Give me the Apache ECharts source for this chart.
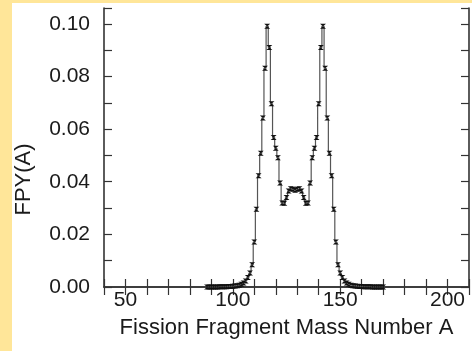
<!DOCTYPE html>
<html>
<head>
<meta charset="utf-8">
<script src="https://cdn.jsdelivr.net/npm/echarts@6/dist/echarts.min.js"></script>
<style>
  html, body { margin: 0; padding: 0; background: #FFE699; }
  #main { position: absolute; left: 12px; top: 3px; width: 460px; height: 348px; background: #fff; }
</style>
</head>
<body>
<div id="main"></div>
<script>
// mass number A
var massNumbers = [
  88, 89, 90, 91, 92, 93, 94, 95, 96, 97, 98, 99,
  100, 101, 102, 103, 104, 105, 106, 107, 108, 109,
  110, 111, 112, 113, 114, 115, 116, 117, 118, 119,
  120, 121, 122, 123, 124, 125, 126, 127, 128, 129,
  130, 131, 132, 133, 134, 135, 136, 137, 138, 139,
  140, 141, 142, 143, 144, 145, 146, 147, 148, 149,
  150, 151, 152, 153, 154, 155, 156, 157, 158, 159,
  160, 161, 162, 163, 164, 165, 166, 167, 168, 169, 170
];
// fission product yield FPY(A)
var fpy = [
  0.00001, 0.00001, 0.00002, 0.00002, 0.00003, 0.00004, 0.00005, 0.00007, 0.00009, 0.00012, 0.00016, 0.00021,
  0.00028, 0.00038, 0.00052, 0.0007, 0.0010, 0.0015, 0.0023, 0.0036, 0.0053, 0.0085,
  0.0171, 0.0295, 0.0423, 0.0508, 0.0642, 0.0831, 0.0991, 0.0910, 0.0696, 0.0568,
  0.0527, 0.0491, 0.0395, 0.0319, 0.0318, 0.0340, 0.0365, 0.0373, 0.0371, 0.0368,
  0.0371, 0.0373, 0.0365, 0.0340, 0.0318, 0.0319, 0.0395, 0.0491, 0.0527, 0.0568,
  0.0696, 0.0910, 0.0991, 0.0831, 0.0642, 0.0508, 0.0423, 0.0295, 0.0171, 0.0085,
  0.0053, 0.0036, 0.0023, 0.0015, 0.0010, 0.0007, 0.00052, 0.00038, 0.00028, 0.00021,
  0.00016, 0.00012, 0.00009, 0.00007, 0.00005, 0.00004, 0.00003, 0.00002, 0.00002, 0.00001, 0.00001
];
var xLabels = [50, 100, 150, 200];
var yLabels = [0, 0.02, 0.04, 0.06, 0.08, 0.10];

var chart = echarts.init(document.getElementById('main'));

var font = '"Liberation Sans", Arial, sans-serif';
var frameColor = '#333';

function xLabel(v) {
  return xLabels.indexOf(v) >= 0 ? String(v) : '';
}
function yLabel(v) {
  for (var i = 0; i < yLabels.length; i++) {
    if (Math.abs(v - yLabels[i]) < 1e-6) return yLabels[i].toFixed(2);
  }
  return '';
}

var points = massNumbers.map(function (a, i) { return [a, fpy[i]]; });

var xBase = {
  type: 'value', min: 40, max: 210, interval: 10,
  axisLine: { show: true, lineStyle: { color: frameColor, width: 1.6 } },
  axisTick: { show: true, inside: true, length: 8, lineStyle: { color: frameColor, width: 1.2 } },
  splitLine: { show: false }
};
var yBase = {
  type: 'value', min: 0, max: 0.106, interval: 0.01,
  axisLine: { show: true, lineStyle: { color: frameColor, width: 1.6 } },
  axisTick: { show: true, inside: true, length: 8, lineStyle: { color: frameColor, width: 1.2 } },
  splitLine: { show: false }
};

var option = {
  animation: false,
  grid: { left: 92, right: 3, top: 5, bottom: 64, outerBoundsMode: 'none' },
  xAxis: [
    Object.assign({}, xBase, {
      position: 'bottom',
      name: 'Fission Fragment Mass Number A',
      nameLocation: 'middle',
      nameGap: 30,
      nameMoveOverlap: false,
      nameTextStyle: { fontFamily: font, fontSize: 22, color: '#1a1a1a' },
      axisLabel: { show: true, formatter: xLabel, fontFamily: font, fontSize: 21, color: '#1a1a1a', margin: 3, showMinLabel: true, showMaxLabel: true }
    }),
    Object.assign({}, xBase, { position: 'top', axisLabel: { show: false } })
  ],
  yAxis: [
    Object.assign({}, yBase, {
      position: 'left',
      name: 'FPY(A)',
      nameLocation: 'middle',
      nameGap: 69,
      nameMoveOverlap: false,
      nameTextStyle: { fontFamily: font, fontSize: 22, color: '#1a1a1a', padding: [0, 64, 0, 0] },
      axisLabel: { show: true, formatter: yLabel, fontFamily: font, fontSize: 21, color: '#1a1a1a', margin: 14 }
    }),
    Object.assign({}, yBase, { position: 'right', axisLabel: { show: false } })
  ],
  series: [{
    type: 'line',
    step: 'middle',
    data: points,
    xAxisIndex: 0,
    yAxisIndex: 0,
    symbol: 'path://M0,0 L10,0 L0,10 L10,10 Z',
    symbolSize: [6, 5],
    showAllSymbol: true,
    itemStyle: { color: '#111' },
    lineStyle: { color: '#555', width: 1.2 }
  }]
};

chart.setOption(option);
window.addEventListener('resize', function () { chart.resize(); });
</script>
</body>
</html>
